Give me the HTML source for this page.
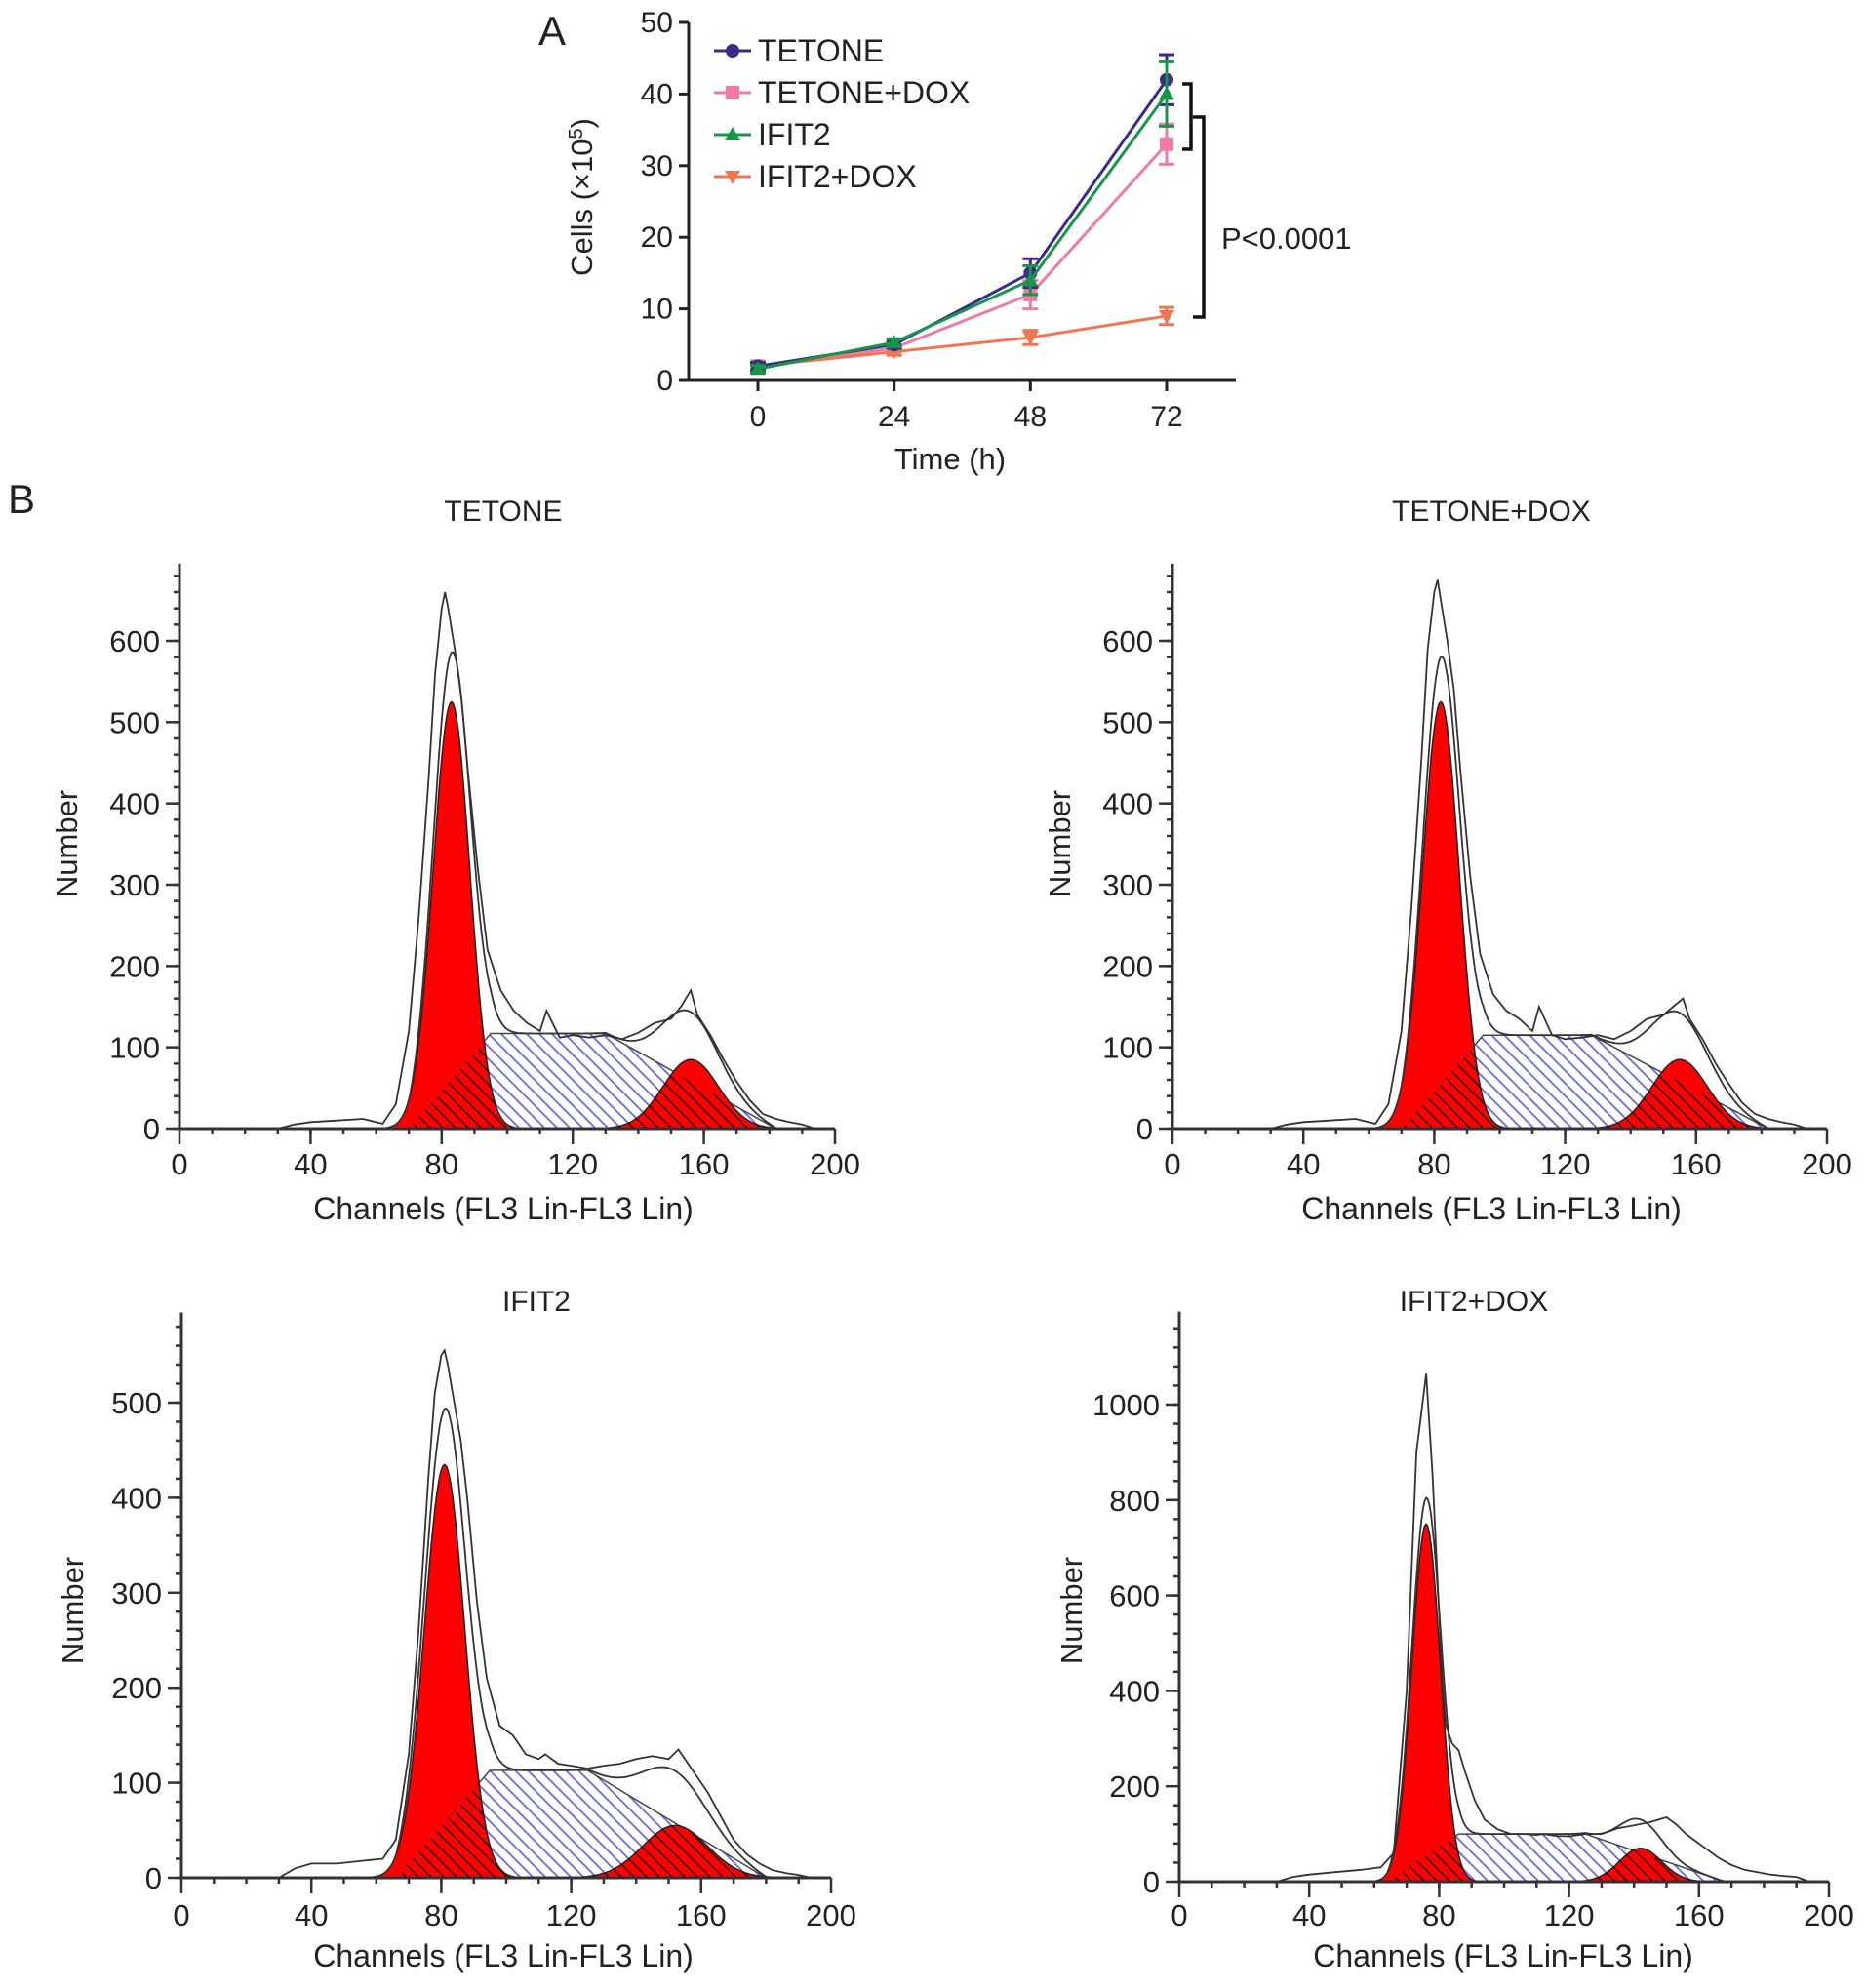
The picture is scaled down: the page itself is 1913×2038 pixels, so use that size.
<!DOCTYPE html>
<html><head><meta charset="utf-8"><style>
html,body{margin:0;padding:0;background:#fff}
svg{display:block}
text{font-family:"Liberation Sans",Arial,sans-serif;fill:#222}
</style></head><body>
<svg id="fig" width="1913" height="2038" viewBox="0 0 1913 2038" xmlns="http://www.w3.org/2000/svg">
<defs>
<pattern id="blueHatch" width="13" height="13" patternUnits="userSpaceOnUse"><path d="M0,0 L13,13 M-4,9 L4,17 M9,-4 L17,4" stroke="#6a6ae0" stroke-width="1.8"/></pattern>
<pattern id="blackHatch" width="13" height="13" patternUnits="userSpaceOnUse"><path d="M0,0 L13,13 M-4,9 L4,17 M9,-4 L17,4" stroke="#300" stroke-width="1.6"/></pattern>
</defs>
<text x="552" y="46" font-size="42">A</text>
<text x="8" y="526" font-size="42">B</text>
<g id="chartA"></g>
<g id="hists"></g>
</svg>
<script>
// ---- Panel A data ----
const timeCats = [0, 24, 48, 72];
const yTicksA = [0, 10, 20, 30, 40, 50];
const seriesNames = ["TETONE", "TETONE+DOX", "IFIT2", "IFIT2+DOX"];
const seriesColors = ["#3b2a8a", "#f07aa6", "#17964a", "#f07650"];
const tetoneVals = [2, 5, 15, 42];
const tetoneErr = [0.5, 0.5, 2, 3.5];
const doxVals = [2, 4.5, 12, 33];
const doxErr = [0.5, 0.5, 2, 2.8];
const ifitVals = [1.6, 5.3, 14, 40];
const ifitErr = [0.5, 0.5, 2, 4.5];
const ifitDoxVals = [2, 4, 6, 9];
const ifitDoxErr = [0.5, 0.5, 1, 1.2];

// ---- Panel B data: components [mean, sd, height]; S-phase [start, flatStart, flatEnd, end, height] ----
const histTitles = ["TETONE", "TETONE+DOX", "IFIT2", "IFIT2+DOX"];
const g1Params = [[83, 5.6, 525], [82, 5.6, 525], [81, 6.2, 435], [76, 4.4, 750]];
const g2Params = [[156, 8.5, 85], [155, 8.5, 85], [152, 10, 55], [142, 6.5, 70]];
const sParams = [[70, 95, 130, 182, 117], [70, 95, 128, 182, 115], [66, 95, 125, 180, 113], [64, 86, 125, 168, 100]];
const rawCh = [30, 35, 40, 48, 56, 62, 66, 70, 73, 76, 78, 80, 81, 82, 84, 86, 88, 91, 94, 98, 102, 106, 110, 112, 116, 120, 125, 130, 135, 140, 145, 150, 153, 156, 158, 162, 166, 170, 174, 178, 182, 186, 190, 194];
const rawTetone = [0, 5, 8, 10, 12, 6, 30, 120, 260, 430, 560, 640, 660, 640, 590, 530, 440, 320, 220, 170, 145, 130, 120, 145, 112, 115, 112, 115, 110, 118, 130, 135, 150, 170, 140, 115, 85, 58, 35, 18, 12, 8, 5, 0];
const rawTetoneDox = [0, 5, 8, 10, 12, 6, 30, 120, 270, 450, 590, 660, 675, 650, 600, 540, 440, 310, 215, 165, 145, 135, 120, 150, 115, 110, 112, 115, 110, 120, 135, 140, 150, 160, 135, 110, 80, 55, 32, 18, 12, 8, 5, 0];
const rawIfit = [0, 10, 15, 15, 18, 20, 40, 130, 260, 420, 510, 550, 555, 540, 500, 460, 400, 290, 210, 160, 150, 130, 125, 130, 120, 118, 115, 118, 120, 125, 128, 125, 135, 120, 110, 90, 65, 40, 25, 15, 8, 5, 3, 0];
const rawIfitDox = [0, 10, 15, 20, 25, 30, 60, 400, 900, 1065, 850, 560, 420, 330, 290, 275, 230, 170, 130, 110, 100, 100, 98, 100, 96, 95, 100, 100, 112, 118, 125, 135, 120, 100, 90, 70, 50, 35, 25, 20, 15, 12, 10, 0];
const rawSets = [rawTetone, rawTetoneDox, rawIfit, rawIfitDox];
const yTickSets = [[0,100,200,300,400,500,600],[0,100,200,300,400,500,600],[0,100,200,300,400,500],[0,200,400,600,800,1000]];
const yMinorStep = [20, 20, 20, 40];
const yMaxVals = [695, 695, 595, 1195];
const xTicksB = [0, 40, 80, 120, 160, 200];

const NS = "http://www.w3.org/2000/svg";
function mk(parent, tag, attrs, txt){const e=document.createElementNS(NS,tag);for(const k in attrs)e.setAttribute(k,attrs[k]);if(txt!==undefined)e.textContent=txt;parent.appendChild(e);return e;}

// ---- Draw panel A ----
(function(){
  const g = document.getElementById("chartA");
  const X0=777, X72=1196, Y0=390, Y50=23, AX=706, AXEND=1267;
  const xs = t => X0 + (t - timeCats[0]) / (timeCats[3] - timeCats[0]) * (X72 - X0);
  const ys = v => Y0 - v / 50 * (Y0 - Y50);
  const ax = mk(g,"path",{d:`M${AX},${Y50} L${AX},${Y0} L${AXEND},${Y0}`,fill:"none",stroke:"#222","stroke-width":3});
   
  yTicksA.forEach(v=>{
    const t=mk(g,"line",{x1:AX-10,x2:AX,y1:ys(v),y2:ys(v),stroke:"#222","stroke-width":3});
     
    const l=mk(g,"text",{x:AX-16,y:ys(v)+10,"font-size":30,"text-anchor":"end"},String(v));
     
  });
  timeCats.forEach(c=>{
    const t=mk(g,"line",{x1:xs(c),x2:xs(c),y1:Y0,y2:Y0+11,stroke:"#222","stroke-width":3});
     
    const l=mk(g,"text",{x:xs(c),y:437,"font-size":30,"text-anchor":"middle"},String(c));
     
  });
  const xt=mk(g,"text",{x:974,y:481,"font-size":31,"text-anchor":"middle"},"Time (h)");
   
  const yt=mk(g,"text",{transform:"translate(607,202) rotate(-90)","font-size":31,"text-anchor":"middle"});
   
  mk(yt,"tspan",{},"Cells (\u00d710");mk(yt,"tspan",{dy:-10,"font-size":20},"5");mk(yt,"tspan",{dy:10},")");
  const vals=[tetoneVals,doxVals,ifitVals,ifitDoxVals], errs=[tetoneErr,doxErr,ifitErr,ifitDoxErr];
  const order=[1,3,0,2];
  order.forEach(i=>{
    const c=seriesColors[i];
    const sg=mk(g,"g",{});
     
    const ln=mk(sg,"polyline",{points:timeCats.map((t,j)=>xs(t)+","+ys(vals[i][j])).join(" "),fill:"none",stroke:c,"stroke-width":3});
     
    timeCats.forEach((t,j)=>{
      const x=xs(t), y=ys(vals[i][j]), e=errs[i][j];
      const eb=mk(sg,"path",{d:`M${x},${ys(vals[i][j]+e)} V${ys(vals[i][j]-e)} M${x-8},${ys(vals[i][j]+e)} H${x+8} M${x-8},${ys(vals[i][j]-e)} H${x+8}`,stroke:c,"stroke-width":3,fill:"none"});
       
      marker(sg,i,x,y,c);
    });
  });
  function marker(p,i,x,y,c){
    let m;
    if(i===0) m=mk(p,"circle",{cx:x,cy:y,r:7,fill:c});
    else if(i===1) m=mk(p,"rect",{x:x-7,y:y-7,width:14,height:14,fill:c});
    else if(i===2) m=mk(p,"path",{d:`M${x},${y-8} L${x+8},${y+6} L${x-8},${y+6}Z`,fill:c});
    else m=mk(p,"path",{d:`M${x},${y+8} L${x+8},${y-6} L${x-8},${y-6}Z`,fill:c});
     
  }
  seriesNames.forEach((n,i)=>{
    const y=52+i*43;
    const lg=mk(g,"g",{});
     
    mk(lg,"line",{x1:732,x2:770,y1:y,y2:y,stroke:seriesColors[i],"stroke-width":3});
    marker(lg,i,751,y,seriesColors[i]);
    mk(lg,"text",{x:777,y:y+11,"font-size":32},n);
  });
  const b1=mk(g,"path",{d:`M1212,86 H1221 V153 H1212`,fill:"none",stroke:"#111","stroke-width":3.5});
   
  const b2=mk(g,"path",{d:`M1223,120 H1234 V325 H1223`,fill:"none",stroke:"#111","stroke-width":3.5});
   
  const pt=mk(g,"text",{x:1252,y:255,"font-size":31},"P<0.0001");
   
})();

// ---- Draw histograms ----
const layouts=[
 {x0:184,x200:856,y0:1157,yr:600,yrPx:657,title:[516,534],num:[68,865],xl:[516,1193],cl:[516,1250]},
 {x0:1202,x200:1873,y0:1157,yr:600,yrPx:657,title:[1529,534],num:[1086,865],xl:[1529,1193],cl:[1529,1250]},
 {x0:186,x200:852,y0:1925,yr:500,yrPx:1438,title:[550,1344],num:[74,1651],xl:[516,1963],cl:[516,2016]},
 {x0:1209,x200:1875,y0:1929,yr:1000,yrPx:1440,title:[1511,1344],num:[1098,1651],xl:[1541,1963],cl:[1541,2016]}];
function gauss(p,c){return p[2]*Math.exp(-0.5*Math.pow((c-p[0])/p[1],2));}
function trap(p,c){if(c<=p[0]||c>=p[3])return 0;if(c<p[1])return p[4]*(c-p[0])/(p[1]-p[0]);if(c<=p[2])return p[4];return p[4]*(p[3]-c)/(p[3]-p[2]);}
const hg=document.getElementById("hists");
layouts.forEach((L,k)=>{
  const g=mk(hg,"g",{});
   
  const xs=c=>L.x0+c/200*(L.x200-L.x0);
  const ys=v=>L.y0-v/L.yr*(L.y0-L.yrPx);
  const chans=[];for(let c=40;c<=200;c+=0.5)chans.push(c);
  const areaPath=f=>{let d=`M${xs(chans[0])},${ys(0)}`;chans.forEach(c=>{d+=` L${xs(c).toFixed(1)},${ys(f(c)).toFixed(1)}`});return d+` L${xs(chans[chans.length-1])},${ys(0)}Z`;};
  const g1f=c=>gauss(g1Params[k],c), g2f=c=>gauss(g2Params[k],c), sf=c=>trap(sParams[k],c);
  const cid='clip'+k;
  const cp=mk(g,"clipPath",{id:cid});
  mk(cp,"path",{d:areaPath(g1f)});mk(cp,"path",{d:areaPath(g2f)});
  const sA=mk(g,"path",{d:areaPath(sf),fill:"url(#blueHatch)",stroke:"#444","stroke-width":1.5});
   
  const r1=mk(g,"path",{d:areaPath(g1f),fill:"#ff0000",stroke:"#222","stroke-width":1.5});
   
  const r2=mk(g,"path",{d:areaPath(g2f),fill:"#ff0000",stroke:"#222","stroke-width":1.5});
   
  const ov=mk(g,"path",{d:areaPath(sf),fill:"url(#blackHatch)","clip-path":`url(#${cid})`});
   
  const fit=mk(g,"polyline",{points:chans.map(c=>xs(c).toFixed(1)+","+ys(g1f(c)+g2f(c)+sf(c)).toFixed(1)).join(" "),fill:"none",stroke:"#333","stroke-width":1.8});
   
  const raw=mk(g,"polyline",{points:rawCh.map((c,j)=>xs(c).toFixed(1)+","+ys(rawSets[k][j]).toFixed(1)).join(" "),fill:"none",stroke:"#333","stroke-width":1.8});
   
  const yTop=ys(yMaxVals[k]);
  const ax=mk(g,"path",{d:`M${L.x0},${yTop} V${L.y0} H${L.x200}`,fill:"none",stroke:"#333","stroke-width":3});
   
  for(let v=0;v<=yMaxVals[k];v+=yMinorStep[k]){mk(g,"line",{x1:L.x0-6,x2:L.x0,y1:ys(v),y2:ys(v),stroke:"#333","stroke-width":2.5});}
  for(let c=10;c<200;c+=10){mk(g,"line",{x1:xs(c),x2:xs(c),y1:L.y0,y2:L.y0+6,stroke:"#333","stroke-width":2.5});}
  yTickSets[k].forEach(v=>{
    mk(g,"line",{x1:L.x0-14,x2:L.x0,y1:ys(v),y2:ys(v),stroke:"#333","stroke-width":2.5});
    const l=mk(g,"text",{x:L.x0-20,y:ys(v)+11,"font-size":31,"text-anchor":"end"},String(v));
     
  });
  xTicksB.forEach(c=>{
    mk(g,"line",{x1:xs(c),x2:xs(c),y1:L.y0,y2:L.y0+16,stroke:"#333","stroke-width":2.5});
    const l=mk(g,"text",{x:xs(c),y:L.xl[1]+11,"font-size":31,"text-anchor":"middle"},String(c));
     
  });
  const t=mk(g,"text",{x:L.title[0],y:L.title[1],"font-size":30,"text-anchor":"middle"},histTitles[k]);
   
  const n=mk(g,"text",{transform:`translate(${L.num[0]+11},${L.num[1]}) rotate(-90)`,"font-size":31,"text-anchor":"middle"},"Number");
   
  const cl=mk(g,"text",{x:L.cl[0],y:L.cl[1],"font-size":32,"text-anchor":"middle"},"Channels (FL3 Lin-FL3 Lin)");
   
});
</script>
</body></html>
